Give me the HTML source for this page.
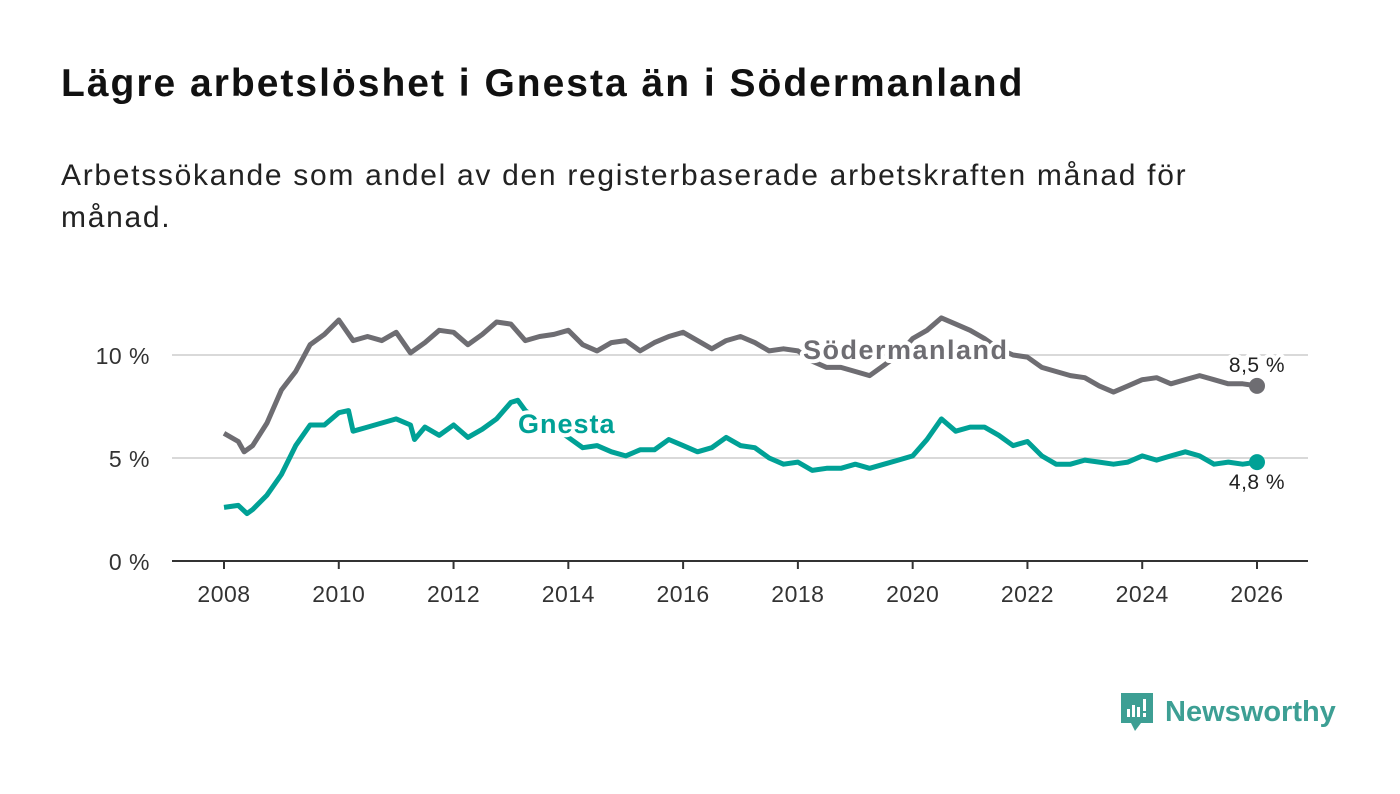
<!DOCTYPE html>
<html><head><meta charset="utf-8"><style>
body{margin:0;width:1400px;height:794px;background:#fff;font-family:"Liberation Sans",sans-serif;overflow:hidden;position:relative}
h1{position:absolute;left:61px;top:62px;margin:0;font-size:39px;letter-spacing:2px;font-weight:bold;color:#111}
p{position:absolute;left:61px;top:155px;margin:0;font-size:30px;letter-spacing:1.7px;line-height:42px;color:#222;width:1190px}
svg{position:absolute;left:0;top:0}
</style></head><body>
<h1>Lägre arbetslöshet i Gnesta än i Södermanland</h1>
<p>Arbetssökande som andel av den registerbaserade arbetskraften månad för månad.</p>
<svg id="chart" width="1400" height="794"></svg>
<script>
const sodDates=[2008,2008.25,2008.35,2008.5,2008.75,2009,2009.25,2009.5,2009.75,2010,2010.25,2010.5,2010.75,2011,2011.25,2011.5,2011.75,2012,2012.25,2012.5,2012.75,2013,2013.25,2013.5,2013.75,2014,2014.25,2014.5,2014.75,2015,2015.25,2015.5,2015.75,2016,2016.25,2016.5,2016.75,2017,2017.25,2017.5,2017.75,2018,2018.25,2018.5,2018.75,2019,2019.25,2019.5,2019.75,2020,2020.25,2020.5,2020.75,2021,2021.25,2021.5,2021.75,2022,2022.25,2022.5,2022.75,2023,2023.25,2023.5,2023.75,2024,2024.25,2024.5,2024.75,2025,2025.25,2025.5,2025.75,2026];
const sodValues=[6.2,5.8,5.3,5.6,6.7,8.3,9.2,10.5,11.0,11.7,10.7,10.9,10.7,11.1,10.1,10.6,11.2,11.1,10.5,11.0,11.6,11.5,10.7,10.9,11.0,11.2,10.5,10.2,10.6,10.7,10.2,10.6,10.9,11.1,10.7,10.3,10.7,10.9,10.6,10.2,10.3,10.2,9.7,9.4,9.4,9.2,9.0,9.5,10.0,10.8,11.2,11.8,11.5,11.2,10.8,10.3,10.0,9.9,9.4,9.2,9.0,8.9,8.5,8.2,8.5,8.8,8.9,8.6,8.8,9.0,8.8,8.6,8.6,8.5];
const gneDates=[2008,2008.25,2008.4,2008.5,2008.75,2009,2009.25,2009.5,2009.75,2010,2010.17,2010.25,2010.5,2010.75,2011,2011.25,2011.32,2011.5,2011.75,2012,2012.25,2012.5,2012.75,2013,2013.12,2013.25,2013.5,2013.75,2014,2014.25,2014.5,2014.75,2015,2015.25,2015.5,2015.75,2016,2016.25,2016.5,2016.75,2017,2017.25,2017.5,2017.75,2018,2018.25,2018.5,2018.75,2019,2019.25,2019.5,2019.75,2020,2020.25,2020.5,2020.75,2021,2021.25,2021.5,2021.75,2022,2022.25,2022.5,2022.75,2023,2023.25,2023.5,2023.75,2024,2024.25,2024.5,2024.75,2025,2025.25,2025.5,2025.75,2026];
const gneValues=[2.6,2.7,2.3,2.5,3.2,4.2,5.6,6.6,6.6,7.2,7.3,6.3,6.5,6.7,6.9,6.6,5.9,6.5,6.1,6.6,6.0,6.4,6.9,7.7,7.8,7.3,6.8,6.5,6.0,5.5,5.6,5.3,5.1,5.4,5.4,5.9,5.6,5.3,5.5,6.0,5.6,5.5,5.0,4.7,4.8,4.4,4.5,4.5,4.7,4.5,4.7,4.9,5.1,5.9,6.9,6.3,6.5,6.5,6.1,5.6,5.8,5.1,4.7,4.7,4.9,4.8,4.7,4.8,5.1,4.9,5.1,5.3,5.1,4.7,4.8,4.7,4.8];
const yTicks=[0,5,10], yTickLabels=["0 %","5 %","10 %"];
const xTicks=[2008,2010,2012,2014,2016,2018,2020,2022,2024,2026];
const NS="http://www.w3.org/2000/svg", svg=document.getElementById('chart');
const xs=d=>224+(d-2008)*(1257-224)/18, ys=v=>561-v*20.6;
function mk(t,a,txt){const e=document.createElementNS(NS,t);for(const k in a)e.setAttribute(k,a[k]);if(txt!==undefined)e.textContent=txt;svg.appendChild(e);return e;}
yTicks.forEach((v,i)=>{
 if(v>0){const g=mk('line',{x1:172,x2:1308,y1:ys(v),y2:ys(v),stroke:'#d9d9d9','stroke-width':2});
 
 }
 const t=mk('text',{x:150,y:ys(v)+9,'text-anchor':'end','font-size':23,'letter-spacing':0.5,fill:'#333'},yTickLabels[i]);
 
 
});
const ax=mk('line',{x1:172,x2:1308,y1:561,y2:561,stroke:'#333','stroke-width':2});


xTicks.forEach(d=>{
 const tk=mk('line',{x1:xs(d),x2:xs(d),y1:561,y2:569,stroke:'#333','stroke-width':2});
 
 
 const t=mk('text',{x:xs(d),y:602,'text-anchor':'middle','font-size':23,'letter-spacing':0.5,fill:'#333'},d);
 
 
});
function series(dates,vals,color,name){
 const p=mk('path',{d:dates.map((d,i)=>(i?'L':'M')+xs(d).toFixed(1)+','+ys(vals[i]).toFixed(1)).join(''),fill:'none',stroke:color,'stroke-width':5,'stroke-linejoin':'round'});
 
 
 const n=dates.length-1;
 const c=mk('circle',{cx:xs(dates[n]),cy:ys(vals[n]),r:8,fill:color});
 
 
}
series(sodDates,sodValues,'#6e6d72','sodermanland');
series(gneDates,gneValues,'#00a196','gnesta');
function lab(x,y,txt,color,name,size,w,anchor,ls){
 const t=mk('text',{x:x,y:y,'font-size':size,'font-weight':w,'letter-spacing':ls,fill:color,stroke:'#fff','stroke-width':8,'paint-order':'stroke','stroke-linejoin':'round','text-anchor':anchor},txt);
 
 
}
lab(803,359,'Södermanland','#6e6d72','sodermanland-label',27,'bold','start',1.5);
lab(518,433,'Gnesta','#00a196','gnesta-label',27,'bold','start',1);
lab(1257,372,'8,5 %','#222','sodermanland-end-value',21,'normal','middle',0.5);
lab(1257,489,'4,8 %','#222','gnesta-end-value',21,'normal','middle',0.5);
</script>
<div style="position:absolute;left:1119px;top:692px;height:40px;display:flex;align-items:center">
 <svg width="36" height="42" style="position:static"><path d="M2 2h32v30H22l-6 8-4-8H2z" fill="#3d9f94"/><rect x="8" y="18" width="3" height="8" fill="#fff"/><rect x="13" y="14" width="3" height="12" fill="#fff"/><rect x="18" y="16" width="3" height="10" fill="#fff"/><rect x="24" y="8" width="3" height="12" fill="#fff"/><rect x="24" y="22" width="3" height="4" fill="#fff"/></svg>
 <span style="font-size:29px;font-weight:bold;color:#3d9f94;margin-left:10px">Newsworthy</span>
</div>
</body></html>
